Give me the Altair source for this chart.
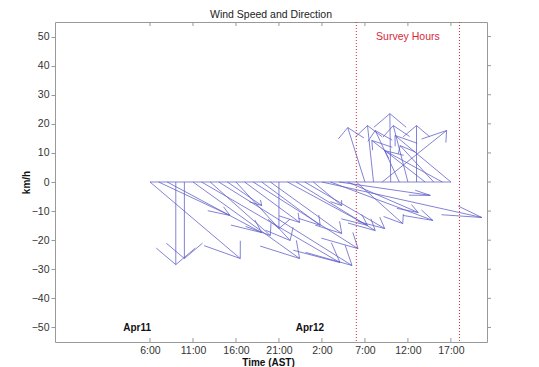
import json
import altair as alt
import pandas as pd

# ---- data (hours after 06:00 Apr 11, AST) ----
hours = list(range(36))
u_kmh = [10.5, 8.3, 11.0, 0.0, 0.0, 12.4, 16.1, 7.0, 15.5, 4.0,
         6.3, 6.4, 12.2, 6.8, 8.3, 0.0, 9.3, 9.2, 9.3, 3.3,
         18.6, 11.9, 10.6, 8.2, 5.4, -2.0, -0.7, 7.5, -0.1, -2.8,
         -1.7, 0.0, -6.2, -3.9, -6.7, -6.5]
v_kmh = [-26.3, -11.5, -17.4, -28.4, -26.3, -26.3, -27.7, -18.4, -28.7, -8.1,
         -20.1, -13.9, -22.9, -14.9, -17.7, -16.0, -14.9, -16.7, -16.0, -8.1,
         -12.2, -13.2, -4.6, -10.5, -14.3, 18.7, 19.4, 17.7, 23.5, 17.7,
         19.4, 19.4, 14.3, 12.5, 10.8, 16.0]

tick_hours = [0, 5, 10, 15, 20, 25, 30, 35]
tick_labels = ["6:00", "11:00", "16:00", "21:00", "2:00", "7:00", "12:00", "17:00"]
y_ticks = [-50, -40, -30, -20, -10, 0, 10, 20, 30, 40, 50]
survey_hours = [24, 36]
day_labels = ["Apr11", "Apr12"]
day_label_x = [-1.5, 18.6]

X_DOMAIN = [-11.05, 39.2]
Y_DOMAIN = [-55, 55]
W, H = 432, 320
LINE = "#5c5cc8"
FONT = "Liberation Sans"

# feather plot segments (shaft + two arrowhead arms)
rows = [{"x": hours[0], "y": 0, "x2": hours[-1], "y2": 0}]
for h, u, v in zip(hours, u_kmh, v_kmh):
    tx, ty = h + u, v
    rows.append({"x": h, "y": 0, "x2": tx, "y2": ty})
    rows.append({"x": tx, "y": ty, "x2": h + 0.8 * u - 0.08 * v, "y2": 0.8 * v + 0.08 * u})
    rows.append({"x": tx, "y": ty, "x2": h + 0.8 * u + 0.08 * v, "y2": 0.8 * v - 0.08 * u})
seg = pd.DataFrame(rows)

label_expr = f"{json.dumps(tick_labels)}[indexof({json.dumps(tick_hours)}, datum.value)]"

x_enc = alt.X("x:Q", scale=alt.Scale(domain=X_DOMAIN, nice=False, zero=False),
              axis=alt.Axis(values=tick_hours, labelExpr=label_expr, ticks=False, domain=False,
                            grid=False, labelPadding=3, labelFontSize=10.5, labelFont=FONT,
                            labelColor="#333", title="Time (AST)", titleFont=FONT,
                            titleFontSize=10, titleFontWeight="bold", titleColor="#111",
                            titleY=23, titleBaseline="alphabetic", titleX=213))
y_enc = alt.Y("y:Q", scale=alt.Scale(domain=Y_DOMAIN, nice=False, zero=False),
              axis=alt.Axis(values=y_ticks, tickSize=4, tickColor="#999", domain=False,
                            grid=False, labelPadding=2, labelFontSize=10.5, labelFont=FONT,
                            labelColor="#333", title="km/h", titleFont=FONT,
                            titleFontSize=10, titleFontWeight="bold", titleColor="#111",
                            titleX=-24, titleY=160))

segments = alt.Chart(seg).mark_rule(color=LINE, strokeWidth=0.9, opacity=0.85).encode(
    x=x_enc, y=y_enc, x2="x2:Q", y2="y2:Q")

survey = alt.Chart(pd.DataFrame({"x": survey_hours})).mark_rule(
    color="#e0283a", strokeWidth=1, strokeDash=[1, 2]).encode(x=x_enc)

survey_text = alt.Chart(pd.DataFrame({"x": [30], "y": [49.7], "t": ["Survey Hours"]})).mark_text(
    color="#d8283c", font=FONT, fontSize=10.5).encode(x=x_enc, y=y_enc, text="t:N")

days = alt.Chart(pd.DataFrame({"x": day_label_x, "y": [-50.3, -50.3], "t": day_labels})).mark_text(
    color="#111", font=FONT, fontSize=10, fontWeight="bold").encode(x=x_enc, y=y_enc, text="t:N")

tdf = pd.DataFrame({"x": tick_hours})
bottom_ticks = alt.Chart(tdf).mark_rule(color="#999").encode(
    x=x_enc, y=alt.value(H), y2=alt.value(H - 4))
top_ticks = alt.Chart(tdf).mark_rule(color="#999").encode(
    x=x_enc, y=alt.value(0), y2=alt.value(4))
right_ticks = alt.Chart(pd.DataFrame({"y": y_ticks})).mark_rule(color="#999").encode(
    y=y_enc, x=alt.value(W), x2=alt.value(W + 4))

chart = alt.layer(segments, survey, survey_text, days, bottom_ticks, top_ticks, right_ticks).properties(
    width=W, height=H,
    title=alt.TitleParams("Wind Speed and Direction", font=FONT, fontSize=10.5,
                          fontWeight="normal", color="#222", offset=1),
    autosize=alt.AutoSizeParams(type="none"),
    padding={"left": 47, "top": 14, "right": 44, "bottom": 25},
    background="white",
).configure_view(stroke="#999", strokeWidth=1)

chart.save("out.html", embed_options={"renderer": "svg", "actions": False})
